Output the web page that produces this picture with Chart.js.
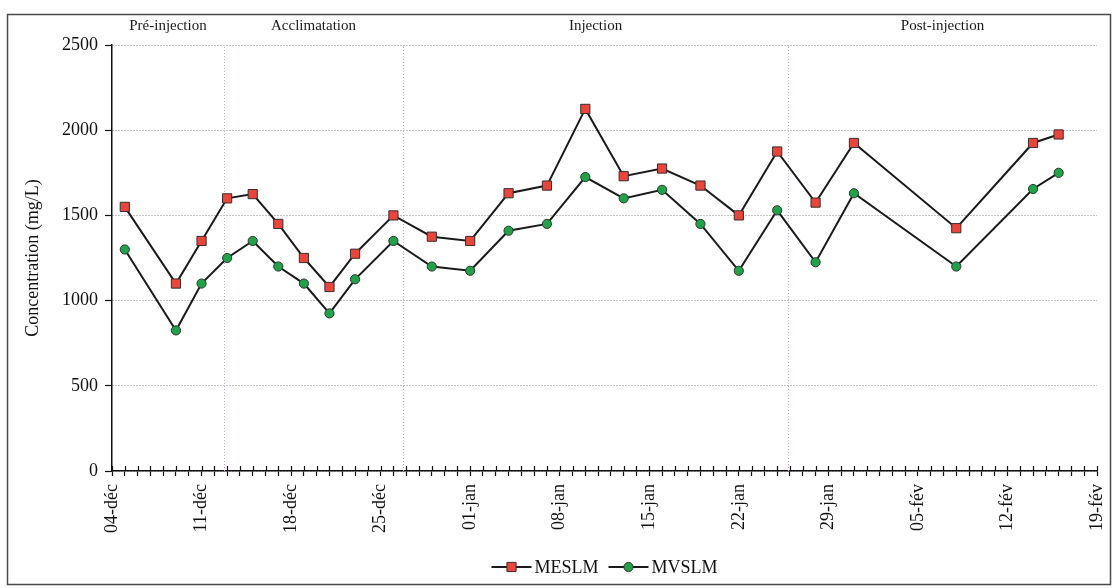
<!DOCTYPE html>
<html>
<head>
<meta charset="utf-8">
<script src="https://cdn.jsdelivr.net/npm/chart.js@4.4.1/dist/chart.umd.min.js"></script>
<style>
  html, body { margin: 0; padding: 0; background: #ffffff; }
  #wrap { width: 1114px; height: 588px; position: relative; }
</style>
</head>
<body>
<div id="wrap"><canvas id="c" width="1114" height="588"></canvas></div>
<script>
// Sampling dates and mean concentrations (mg/L)
const sampleDates = ['05-déc', '09-déc', '11-déc', '13-déc', '15-déc', '17-déc', '19-déc', '21-déc', '23-déc',
  '26-déc', '29-déc', '01-jan', '04-jan', '07-jan', '10-jan', '13-jan', '16-jan', '19-jan', '22-jan',
  '25-jan', '28-jan', '31-jan', '08-fév', '14-fév', '16-fév'];
const meslm = [1550, 1100, 1350, 1600, 1625, 1450, 1250, 1080, 1275,
  1500, 1375, 1350, 1630, 1675, 2125, 1730, 1775, 1675, 1500,
  1875, 1575, 1925, 1425, 1925, 1975];
const mvslm = [1300, 825, 1100, 1250, 1350, 1200, 1100, 925, 1125,
  1350, 1200, 1175, 1410, 1450, 1725, 1600, 1650, 1450, 1175,
  1530, 1225, 1630, 1200, 1655, 1750];

// Weekly axis labels (one every 7 days from 04-déc)
const weekLabels = ['04-déc', '11-déc', '18-déc', '25-déc', '01-jan', '08-jan', '15-jan', '22-jan',
  '29-jan', '05-fév', '12-fév', '19-fév'];
const yTicks = [0, 500, 1000, 1500, 2000, 2500];

// Study phases and the day offsets separating them
const phaseNames = ['Pré-injection', 'Acclimatation', 'Injection', 'Post-injection'];
const phaseBreaks = [8.75, 22.75, 52.85];

const SERIF = '"Liberation Serif", "DejaVu Serif", serif';
const MONTH_OFFSET = { 'déc': -4, 'jan': 27, 'fév': 58 };
function dayIndex(label) {
  const [d, m] = label.split('-');
  return parseInt(d, 10) + MONTH_OFFSET[m];
}
const DAYS = (weekLabels.length - 1) * 7;

const toPoints = (vals) => sampleDates.map((d, i) => ({ x: dayIndex(d), y: vals[i] }));

const decorations = {
  id: 'decorations',
  beforeDraw(chart) {
    const { ctx, width, height } = chart;
    ctx.save();
    ctx.fillStyle = '#ffffff';
    ctx.fillRect(0, 0, width, height);
    ctx.strokeStyle = '#4a4a4a';
    ctx.lineWidth = 1.5;
    ctx.strokeRect(7.5, 14.5, 1103, 570);
    ctx.restore();
  },
  beforeDatasetsDraw(chart) {
    const { ctx, chartArea, scales: { x } } = chart;
    ctx.save();
    // phase separators
    ctx.strokeStyle = '#c6a9c6';
    ctx.lineWidth = 1;
    ctx.setLineDash([1, 2]);
    phaseBreaks.forEach((b) => {
      const px = Math.round(x.getPixelForValue(b)) + 0.5;
      ctx.beginPath();
      ctx.moveTo(px, chartArea.top + 2);
      ctx.lineTo(px, chartArea.bottom);
      ctx.stroke();
    });
    ctx.setLineDash([]);
    // phase names
    const edges = [x.min, ...phaseBreaks, x.max];
    ctx.fillStyle = '#1a1a1a';
    ctx.font = '15px ' + SERIF;
    ctx.textAlign = 'center';
    ctx.textBaseline = 'middle';
    phaseNames.forEach((name, i) => {
      const cx = x.getPixelForValue((edges[i] + edges[i + 1]) / 2);
      ctx.fillText(name, cx, 26);
    });
    // upper half of the daily tick marks
    ctx.strokeStyle = '#111';
    ctx.lineWidth = 1.2;
    x.ticks.forEach((t) => {
      const px = Math.round(x.getPixelForValue(t.value)) + 0.5;
      ctx.beginPath();
      ctx.moveTo(px, chartArea.bottom - 5);
      ctx.lineTo(px, chartArea.bottom);
      ctx.stroke();
    });
    ctx.restore();
  },
  afterDraw(chart) {
    // legend: line segment with marker, then series name
    const { ctx, chartArea } = chart;
    const sets = chart.data.datasets;
    ctx.save();
    ctx.font = '18px ' + SERIF;
    ctx.textBaseline = 'middle';
    ctx.textAlign = 'left';
    const symW = 40, gap = 3, itemGap = 10;
    const widths = sets.map((ds) => symW + gap + ctx.measureText(ds.label).width);
    const total = widths.reduce((a, b) => a + b, 0) + itemGap * (sets.length - 1);
    let xPos = (chartArea.left + chartArea.right) / 2 - total / 2;
    const y = 567;
    sets.forEach((ds, i) => {
      ctx.strokeStyle = ds.borderColor;
      ctx.lineWidth = 2;
      ctx.beginPath();
      ctx.moveTo(xPos, y);
      ctx.lineTo(xPos + symW, y);
      ctx.stroke();
      ctx.fillStyle = ds.pointBackgroundColor;
      ctx.strokeStyle = ds.pointBorderColor;
      ctx.lineWidth = ds.pointBorderWidth;
      Chart.helpers.drawPoint(ctx, { pointStyle: ds.pointStyle, radius: ds.pointRadius, borderWidth: ds.pointBorderWidth },
        xPos + symW / 2, y);
      ctx.fillStyle = '#111';
      ctx.fillText(ds.label, xPos + symW + gap, y + 1);
      xPos += widths[i] + itemGap;
    });
    ctx.restore();
  }
};

new Chart(document.getElementById('c'), {
  type: 'line',
  data: {
    datasets: [
      {
        label: 'MESLM',
        data: toPoints(meslm),
        borderColor: '#1a1a1a',
        borderWidth: 2,
        pointStyle: 'rect',
        pointRadius: 6.5,
        pointBackgroundColor: '#e8463c',
        pointBorderColor: '#3a2c2c',
        pointBorderWidth: 1,
        tension: 0
      },
      {
        label: 'MVSLM',
        data: toPoints(mvslm),
        borderColor: '#1a1a1a',
        borderWidth: 2,
        pointStyle: 'circle',
        pointRadius: 4.6,
        pointBackgroundColor: '#22a04a',
        pointBorderColor: '#2a3a2c',
        pointBorderWidth: 1,
        tension: 0
      }
    ]
  },
  options: {
    responsive: false,
    animation: false,
    devicePixelRatio: 1,
    layout: { padding: { left: 0, top: 45, right: 17, bottom: 0 } },
    plugins: { legend: { display: false }, tooltip: { enabled: false } },
    scales: {
      x: {
        type: 'linear',
        min: 0,
        max: DAYS,
        afterFit(s) { s.height = 117; s.paddingLeft = 0; s.paddingRight = 0; },
        grid: { drawOnChartArea: false, drawTicks: true, tickLength: 5, color: '#111', tickColor: '#111', tickWidth: 1.2 },
        border: { display: true, color: '#111', width: 1.5 },
        ticks: {
          stepSize: 1,
          autoSkip: false,
          minRotation: 90,
          maxRotation: 90,
          padding: 8,
          color: '#111',
          font: { family: SERIF, size: 18 },
          callback: (v) => (v % 7 === 0 ? weekLabels[v / 7] : '')
        }
      },
      y: {
        min: yTicks[0],
        max: yTicks[yTicks.length - 1],
        afterFit(s) { s.width = 112; },
        afterBuildTicks(s) { s.ticks = yTicks.map((v) => ({ value: v })); },
        grid: { color: '#8a8a8a', lineWidth: 1, tickLength: 7, tickColor: '#111', tickWidth: 1.2, tickBorderDash: [] },
        border: { display: true, color: '#111', width: 1.5, dash: [1, 2] },
        ticks: { padding: 7, color: '#111', font: { family: SERIF, size: 18 }, callback: (v) => String(v) },
        title: {
          display: true,
          text: 'Concentration (mg/L)',
          color: '#111',
          font: { family: SERIF, size: 18 },
          padding: { top: 22, bottom: 0 }
        }
      }
    }
  },
  plugins: [decorations]
});
</script>
</body>
</html>
